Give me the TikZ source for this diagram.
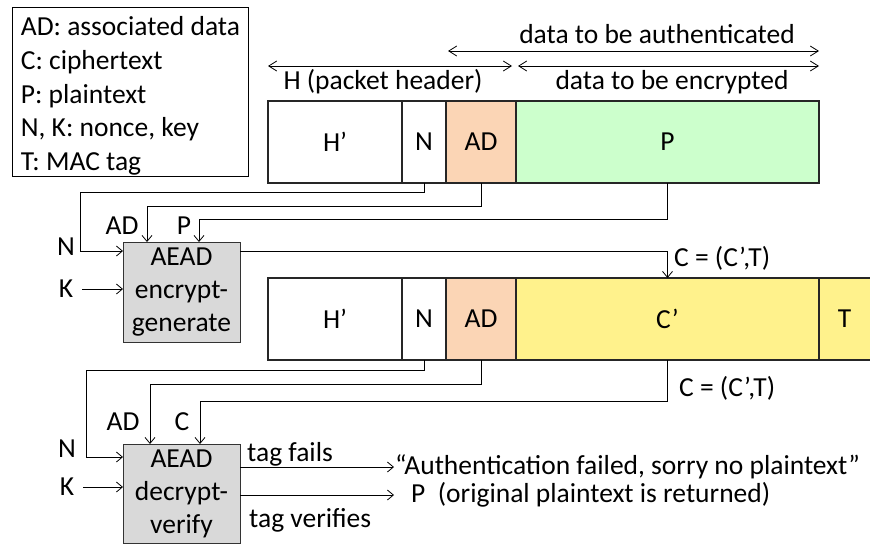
\documentclass[tikz,border=0pt]{standalone}
\usepackage{fontspec}
\setmainfont{Carlito}
\usetikzlibrary{arrows.meta}
\definecolor{adpeach}{RGB}{251,213,181}
\definecolor{ptgreen}{RGB}{204,255,204}
\definecolor{ctyellow}{RGB}{255,242,140}
\definecolor{boxgray}{RGB}{217,217,217}
\frenchspacing

\begin{document}
\begin{tikzpicture}[
  x=1pt, y=-1pt,
  font=\fontsize{27.5}{34}\selectfont,
  cell/.style={rectangle, draw=black!85, line width=1.2pt, anchor=north west, minimum height=82pt, inner sep=0pt, outer sep=0pt},
  aead/.style={rectangle, draw=black!80, line width=1pt, fill=boxgray, anchor=north west, minimum width=117pt, minimum height=100pt, inner sep=0pt, outer sep=0pt, align=center, font=\fontsize{27.5}{33}\selectfont},
  lbl/.style={inner sep=1pt},
  wire/.style={-{Straight Barb[length=6pt,width=10pt]}, line width=0.8pt},
  dim/.style={{Straight Barb[length=8pt,width=10pt]}-{Straight Barb[length=8pt,width=10pt]}, line width=0.8pt}
]
\useasboundingbox (0,0) rectangle (870,544);

% Legend
\node[draw, line width=0.9pt, anchor=north west, minimum width=236pt, minimum height=169pt, inner sep=0pt] (legend) at (12,7) {};
\node[align=left, inner sep=0pt, font=\fontsize{27.5}{33.7}\selectfont] (legendtxt) at ([yshift=-4pt]legend.center) {AD: associated data\\C: ciphertext\\P: plaintext\\N, K: nonce, key\\T: MAC tag};

% Packet before encryption
\node[cell, minimum width=134pt] (h1) at (268,101) {H’};
\node[cell, minimum width=44pt] (n1) at (h1.north east) {N};
\node[cell, minimum width=70pt, fill=adpeach] (ad1) at (n1.north east) {AD};
\node[cell, minimum width=303pt, fill=ptgreen] (p1) at (ad1.north east) {P};

% Spans above the packet
\draw[dim] ([yshift=35pt]h1.north west) -- ([xshift=-4pt,yshift=35pt]ad1.north east);
\draw[dim] ([xshift=2pt,yshift=35pt]p1.north west) -- ([yshift=35pt]p1.north east);
\draw[dim] ([xshift=2pt,yshift=50pt]ad1.north west) -- ([yshift=50pt]p1.north east);
\node[lbl] (hdr) at (383,82) {H (packet header)};
\node[lbl] (enctxt) at (672,82) {data to be encrypted};
\node[lbl] (authtxt) at (657,34) {data to be authenticated};

% Packet after encryption
\node[cell, minimum width=134pt] (h2) at (268,278) {H’};
\node[cell, minimum width=44pt] (n2) at (h2.north east) {N};
\node[cell, minimum width=70pt, fill=adpeach] (ad2) at (n2.north east) {AD};
\node[cell, minimum width=303pt, fill=ctyellow] (c2) at (ad2.north east) {C’};
\node[cell, draw=none, minimum width=51pt, fill=ctyellow] (t2) at (c2.north east) {T};
\draw[line width=1.2pt, black!85] (t2.north east) -- (t2.north west) -- (t2.south west) -- (t2.south east);

% AEAD boxes
\node[aead] (enc) at (123,242) {AEAD\\encrypt-\\generate};
\node[aead, minimum height=99pt] (dec) at (123,444) {AEAD\\decrypt-\\verify};

% Encryption side
\node[lbl] (nenc) at (66,247) {N};
\node[lbl] (kenc) at (66,289) {K};
\node[lbl] (adenc) at (122,226) {AD};
\node[lbl] (penc) at (184,226) {P};
\node[lbl, anchor=west] (cenc) at (673,258) {C = (C’,T)};
\draw[wire] (n1.south) -- ++(0,9) -| (80,251) -- ([yshift=-9pt]enc.north west);
\draw[wire] (ad1.south) -- ++(0,23) -| ([xshift=24pt]enc.north west);
\draw[wire] (p1.south) -- ++(0,36) -| ([xshift=76pt]enc.north west);
\draw[wire] ([xshift=8pt]kenc.east) -- (kenc.east -| enc.west);
\draw[wire] ([yshift=-9pt]enc.north east) -| (c2.north);

% Decryption side
\node[lbl] (ndec) at (67,449) {N};
\node[lbl] (kdec) at (67,487) {K};
\node[lbl] (addec) at (123,422) {AD};
\node[lbl] (cdec) at (182,422) {C};
\node[lbl, anchor=west] (cin) at (678,388) {C = (C’,T)};
\draw[wire] (n2.south) -- ++(0,10) -| (86,457) -- ([yshift=-13pt]dec.north west);
\draw[wire] (ad2.south) -- ++(0,24) -| ([xshift=27pt]dec.north west);
\draw[wire] (c2.south) -- ++(0,41) -| ([xshift=77pt]dec.north west);
\draw[wire] ([xshift=8pt]kdec.east) -- (kdec.east -| dec.west);

% Results
\node[lbl, anchor=west] (fail) at (394,467) {“Authentication failed, sorry no plaintext”};
\node[lbl, anchor=west] (ok) at (410,495) {P\ \ (original plaintext is returned)};
\node[lbl, anchor=west] (tf) at (246,454) {tag fails};
\node[lbl, anchor=west] (tv) at (248,520) {tag verifies};
\draw[wire] (fail.west -| dec.east) -- (fail.west);
\draw[wire] (ok.west -| dec.east) -- (ok.west -| fail.west);

\end{tikzpicture}
\end{document}
